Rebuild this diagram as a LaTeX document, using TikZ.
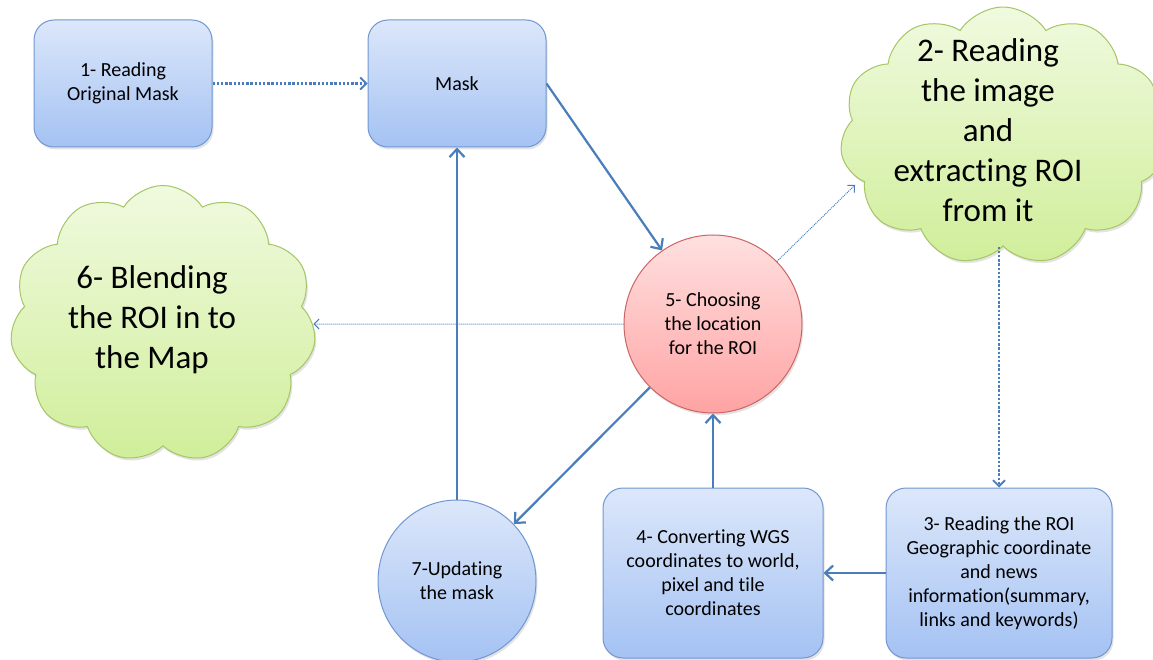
\documentclass[tikz,border=0pt]{standalone}
\usepackage{fontspec}
\setmainfont{Carlito}[Ligatures={NoCommon}]
\usetikzlibrary{shapes.geometric,shapes.symbols,arrows.meta,shadows}

\definecolor{linkblue}{HTML}{4A7EBB}
\definecolor{boxtop}{HTML}{DCE7FA}
\definecolor{boxbot}{HTML}{A4C2F3}
\definecolor{boxline}{HTML}{7097D2}
\definecolor{redtop}{HTML}{FFE0E0}
\definecolor{redbot}{HTML}{FFA3A3}
\definecolor{redline}{HTML}{CD6464}
\definecolor{greentop}{HTML}{F0FADF}
\definecolor{greenbot}{HTML}{D0EE9A}
\definecolor{greenline}{HTML}{A6C566}

\tikzset{
  softshadow/.style={drop shadow={opacity=0.22, shadow xshift=1.5pt, shadow yshift=-2.5pt}},
  stepbox/.style={draw=boxline, line width=1pt, rounded corners=20pt,
    top color=boxtop, bottom color=boxbot, softshadow,
    align=center, font=\fontsize{20}{24}\selectfont, inner sep=2pt},
  bluedisc/.style={ellipse, draw=boxline, line width=1pt,
    top color=boxtop, bottom color=boxbot, softshadow,
    align=center, font=\fontsize{20}{24}\selectfont, inner sep=0pt},
  reddisc/.style={circle, draw=redline, line width=1pt,
    top color=redtop, bottom color=redbot, softshadow,
    align=center, font=\fontsize{20}{24}\selectfont, inner sep=0pt},
  puff/.style={cloud, cloud puffs=11, cloud puff arc=115, cloud ignores aspect,
    draw=greenline, line width=1pt, top color=greentop, bottom color=greenbot,
    softshadow, inner sep=0pt},
  cloudtext/.style={align=center, font=\fontsize{33}{40}\selectfont, inner sep=0pt},
  flow/.style={draw=linkblue, line width=2.2pt, -{Straight Barb[length=8pt,width=15pt]}},
  dotflow/.style={draw=linkblue, line width=2.4pt, dash pattern=on 2.4pt off 1.8pt,
    -{Straight Barb[length=6pt,width=12pt,line width=1.8pt]}},
  thinflow/.style={draw=linkblue, line width=1pt, dash pattern=on 1pt off 1pt,
    -{Straight Barb[length=5pt,width=10pt]}},
}

\begin{document}
\begin{tikzpicture}[x=1pt,y=-1pt]
\useasboundingbox (0,0) rectangle (1153,660);

% clouds
\node[puff, minimum width=326pt, minimum height=258pt] (cl2) at (1003,136) {};
\node[cloudtext] (cl2t) at (988,130) {2- Reading\\the image\\and\\extracting ROI\\from it};
\node[puff, minimum width=306pt, minimum height=277pt] (cl6) at (163,324) {};
\node[cloudtext] (cl6t) at (152,320) {6- Blending\\the ROI in to\\the Map};

% rounded boxes
\node[stepbox, minimum width=178pt, minimum height=127pt] (b1) at (123,83.5) {1- Reading\\Original Mask};
\node[stepbox, minimum width=178pt, minimum height=127pt] (mask) at (457,83.5) {Mask};
\node[stepbox, minimum width=220pt, minimum height=170pt] (b4) at (713,573)
  {4- Converting WGS\\coordinates to world,\\pixel and tile\\coordinates};
\node[stepbox, minimum width=226pt, minimum height=170pt] (b3) at (999,573)
  {3- Reading the ROI\\Geographic coordinate\\and news\\information(summary,\\links and keywords)};

% round nodes
\node[reddisc, minimum size=178pt] (c5) at (713,324) {5- Choosing\\the location\\for the ROI};
\node[bluedisc, minimum width=158pt, minimum height=162pt] (e7) at (457,581) {7-Updating\\the mask};

% connectors
\coordinate (cl2in) at (855,185);
\draw[dotflow] (b1.east) -- (mask.west);
\draw[flow] (mask.east) -- (c5);
\draw[thinflow] (c5) -- (cl2in);
\draw[dotflow] (cl2.south -| b3.north) -- (b3.north);
\draw[flow] (b3.west) -- (b4.east);
\draw[flow] (b4.north) -- (c5.south);
\draw[flow] (c5) -- (e7);
\draw[flow] (e7.north) -- (mask.south);
\draw[thinflow] (c5.west) -- (cl6.east);
\end{tikzpicture}
\end{document}
